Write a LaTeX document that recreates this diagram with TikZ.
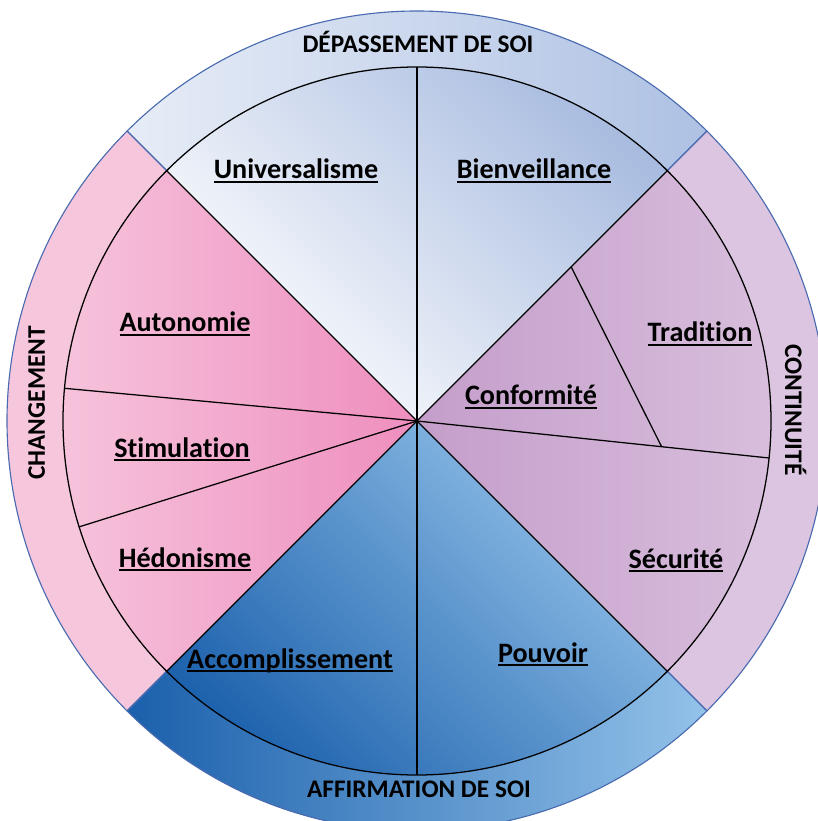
\documentclass[tikz,border=0pt]{standalone}
\usepackage{fontspec}
\setmainfont{Carlito}[Ligatures=NoCommon]

\newcommand{\ulword}[1]{\setbox0\hbox{#1}\rlap{\rule[-3pt]{\wd0}{1.7pt}}\box0}

\definecolor{edgeblue}{HTML}{4A6BB0}
\definecolor{dslight}{HTML}{E7EDF7}
\definecolor{dsdark}{HTML}{AEC1E3}
\definecolor{univtop}{HTML}{A6BADF}
\definecolor{chgband}{HTML}{F6C6DC}
\definecolor{chglight}{HTML}{F7C8DE}
\definecolor{chgdark}{HTML}{EE8EBE}
\definecolor{ctband}{HTML}{DCC5E0}
\definecolor{ctdark}{HTML}{C49ECA}
\definecolor{ctlight}{HTML}{DAC1DE}
\definecolor{afdark}{HTML}{1B60AC}
\definecolor{aflight}{HTML}{93C2E9}

\begin{document}
\begin{tikzpicture}[x=0.025cm, y=0.025cm,
   band/.style={draw=edgeblue, line width=0.8pt},
   sep/.style={draw=black, line width=0.9pt},
   valtext/.style={font=\fontsize{20}{24}\selectfont\bfseries, anchor=base},
   grouptext/.style={font=\fontsize{18}{21}\selectfont\bfseries, anchor=base}]

   \useasboundingbox (-417,-400) rectangle (400,421);
   \coordinate (c) at (0,0);

   % outer bands
   \shade[band, left color=dslight, right color=dsdark] (c) -- (45:410) arc[start angle=45, end angle=135, radius=410] -- cycle;
   \fill[band, fill=ctband] (c) -- (-45:410) arc[start angle=-45, end angle=45, radius=410] -- cycle;
   \fill[band, fill=chgband] (c) -- (135:410) arc[start angle=135, end angle=225, radius=410] -- cycle;
   \shade[band, left color=afdark, right color=aflight] (c) -- (225:410) arc[start angle=225, end angle=315, radius=410] -- cycle;

   % inner sectors
   \shade[top color=univtop, bottom color=white, shading angle=-45] (c) -- (45:354) arc[start angle=45, end angle=135, radius=354] -- cycle;
   \shade[left color=chglight, right color=chgdark] (c) -- (135:354) arc[start angle=135, end angle=225, radius=354] -- cycle;
   \shade[top color=aflight, bottom color=afdark, shading angle=-45] (c) -- (225:354) arc[start angle=225, end angle=315, radius=354] -- cycle;
   \shade[left color=ctdark, right color=ctlight] (c) -- (-45:354) arc[start angle=-45, end angle=45, radius=354] -- cycle;

   \draw[sep] (c) circle[radius=354];
   \draw[sep] (90:354) -- (270:354);
   \draw[sep] (45:354) -- (225:354);
   \draw[sep] (135:354) -- (-45:354);
   \draw[sep] (c) -- (174.7:354);
   \draw[sep] (c) -- (197.4:354);
   \draw[sep] (c) -- (-6:354);
   \draw[sep] (45:218) -- (-6:246);

   \node[valtext] (univ) at (-121,242) {\ulword{Universalisme}};
   \node[valtext] (bienv) at (117,242) {\ulword{Bienveillance}};
   \node[valtext] (auto) at (-232,89) {\ulword{Autonomie}};
   \node[valtext] (stim) at (-235,-36) {\ulword{Stimulation}};
   \node[valtext] (hedo) at (-232,-146) {\ulword{Hédonisme}};
   \node[valtext] (accomp) at (-127,-247) {\ulword{Accomplissement}};
   \node[valtext] (pouv) at (126,-241) {\ulword{Pouvoir}};
   \node[valtext] (secu) at (259,-147) {\ulword{Sécurité}};
   \node[valtext] (conf) at (114,16) {\ulword{Conformité}};
   \node[valtext] (trad) at (283,79) {\ulword{Tradition}};

   \node[grouptext] (depass) at (1,368) {DÉPASSEMENT DE SOI};
   \node[grouptext] (affirm) at (2,-376) {AFFIRMATION DE SOI};
   \node[grouptext, rotate=90] (chang) at (-372,18) {CHANGEMENT};
   \node[grouptext, rotate=-90] (contin) at (368,11) {CONTINUITÉ};
\end{tikzpicture}
\end{document}
